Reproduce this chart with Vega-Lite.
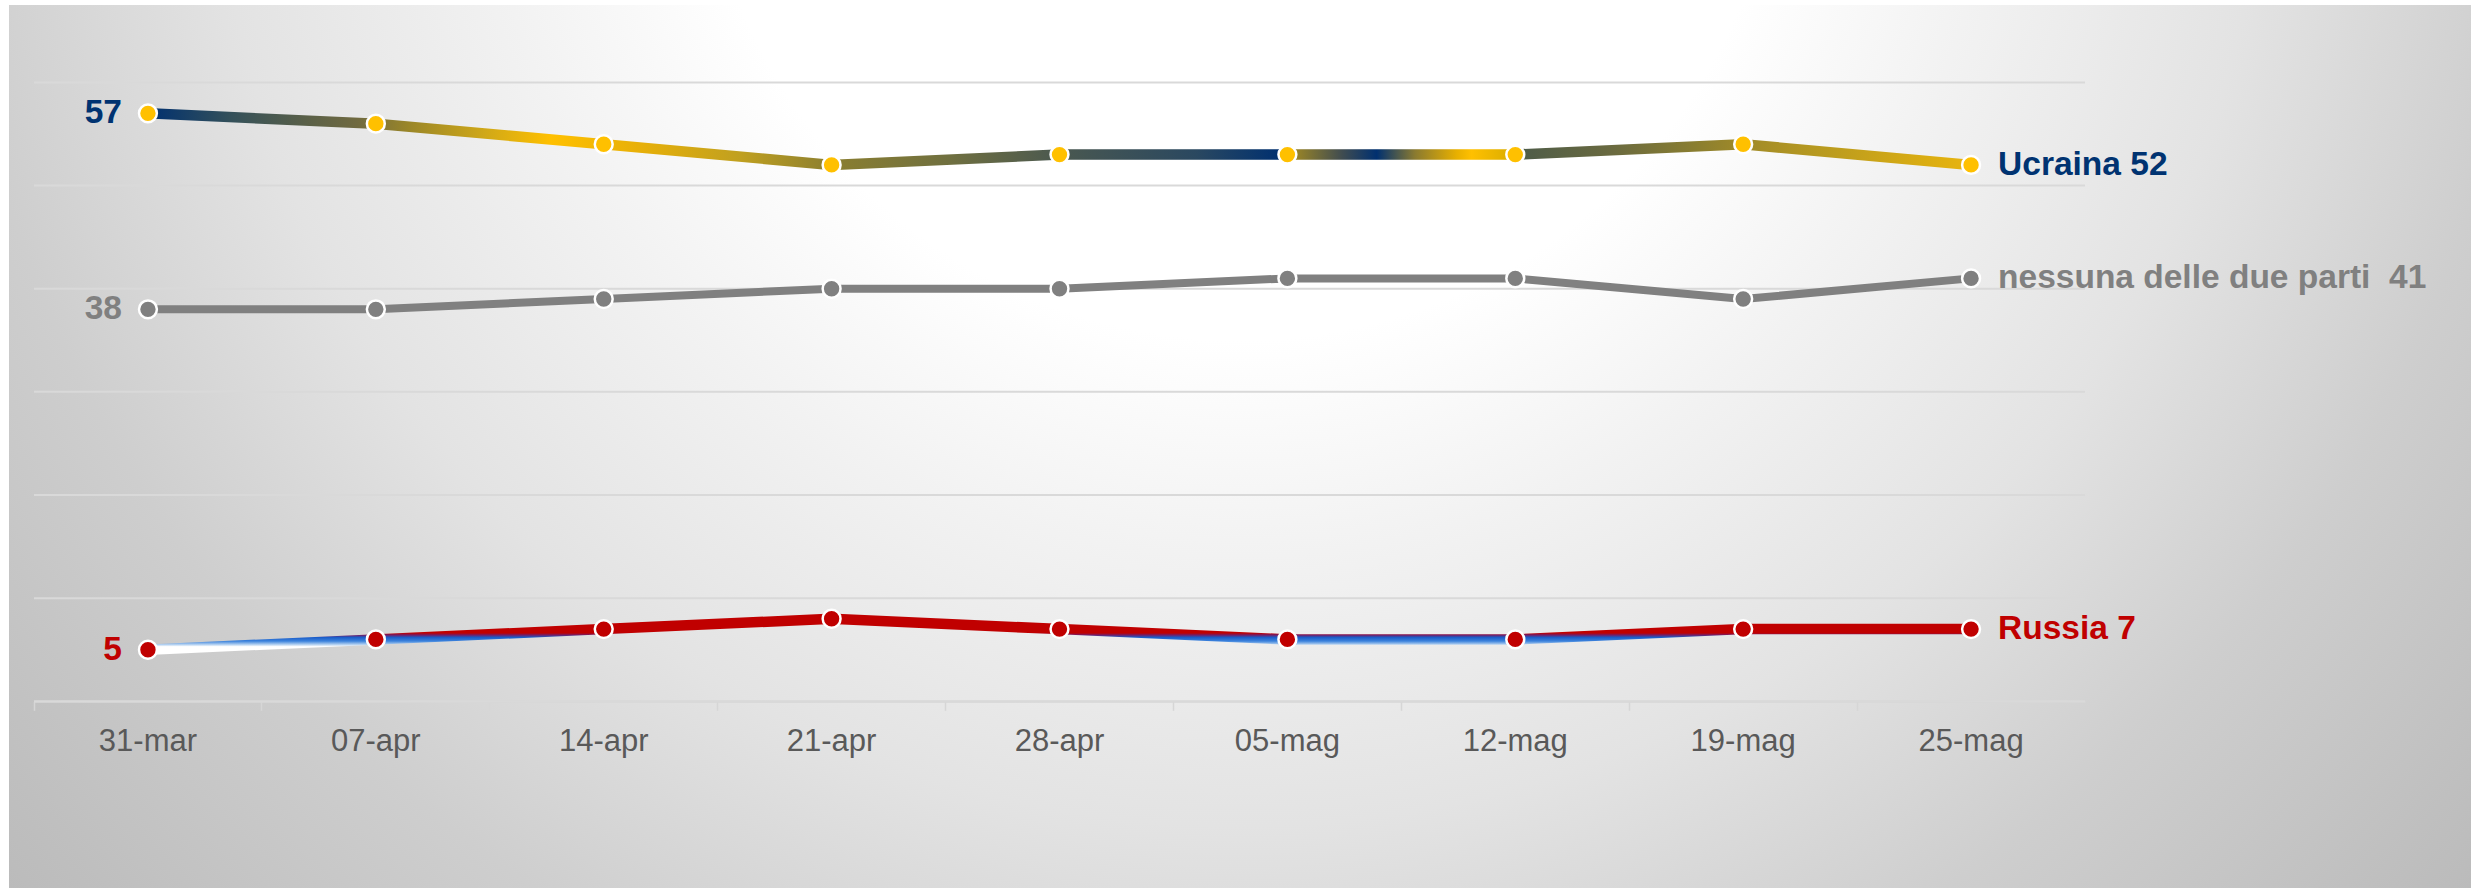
{
  "$schema": "https://vega.github.io/schema/vega-lite/v6.json",
  "width": 2462,
  "height": 883,
  "autosize": {"type": "none"},
  "padding": {"left": 9, "top": 5, "right": 0, "bottom": 0},
  "background": "#ffffff",
  "config": {
    "view": {
      "stroke": null,
      "fill": {
        "gradient": "radial",
        "x1": 0.5, "y1": 0.2374, "r1": 0,
        "x2": 0.5, "y2": 0.2374, "r2": 0.7311,
        "stops": [
          {"offset": 0, "color": "#ffffff"},
          {"offset": 0.3, "color": "#ffffff"},
          {"offset": 0.42, "color": "#f2f2f2"},
          {"offset": 0.57, "color": "#e3e3e3"},
          {"offset": 0.72, "color": "#cecece"},
          {"offset": 0.87, "color": "#bfbfbf"},
          {"offset": 1, "color": "#b3b3b3"}
        ]
      }
    },
    "axisX": {
      "offset": -186.7,
      "bandPosition": 0,
      "domainColor": "#d6d6d6",
      "domainWidth": 2,
      "tickColor": "#d6d6d6",
      "tickWidth": 1.5,
      "tickSize": 9,
      "labelFont": "Liberation Sans",
      "labelFontSize": 31,
      "labelColor": "#595959",
      "labelBaseline": "alphabetic",
      "labelPadding": 40,
      "labelAngle": 0,
      "grid": false
    },
    "axisY": {"disable": true},
    "text": {"font": "Liberation Sans", "fontWeight": "bold", "fontSize": 33.5}
  },
  "datasets": {
    "sondaggio": [
      {"data": "31-mar", "serie": "Ucraina", "pct": 57},
      {"data": "07-apr", "serie": "Ucraina", "pct": 56},
      {"data": "14-apr", "serie": "Ucraina", "pct": 54},
      {"data": "21-apr", "serie": "Ucraina", "pct": 52},
      {"data": "28-apr", "serie": "Ucraina", "pct": 53},
      {"data": "05-mag", "serie": "Ucraina", "pct": 53},
      {"data": "12-mag", "serie": "Ucraina", "pct": 53},
      {"data": "19-mag", "serie": "Ucraina", "pct": 54},
      {"data": "25-mag", "serie": "Ucraina", "pct": 52},
      {"data": "31-mar", "serie": "nessuna delle due parti", "pct": 38},
      {"data": "07-apr", "serie": "nessuna delle due parti", "pct": 38},
      {"data": "14-apr", "serie": "nessuna delle due parti", "pct": 39},
      {"data": "21-apr", "serie": "nessuna delle due parti", "pct": 40},
      {"data": "28-apr", "serie": "nessuna delle due parti", "pct": 40},
      {"data": "05-mag", "serie": "nessuna delle due parti", "pct": 41},
      {"data": "12-mag", "serie": "nessuna delle due parti", "pct": 41},
      {"data": "19-mag", "serie": "nessuna delle due parti", "pct": 39},
      {"data": "25-mag", "serie": "nessuna delle due parti", "pct": 41},
      {"data": "31-mar", "serie": "Russia", "pct": 5},
      {"data": "07-apr", "serie": "Russia", "pct": 6},
      {"data": "14-apr", "serie": "Russia", "pct": 7},
      {"data": "21-apr", "serie": "Russia", "pct": 8},
      {"data": "28-apr", "serie": "Russia", "pct": 7},
      {"data": "05-mag", "serie": "Russia", "pct": 6},
      {"data": "12-mag", "serie": "Russia", "pct": 6},
      {"data": "19-mag", "serie": "Russia", "pct": 7},
      {"data": "25-mag", "serie": "Russia", "pct": 7}
    ],
    "griglia": [
      {"v": 0}, {"v": 10}, {"v": 20}, {"v": 30}, {"v": 40}, {"v": 50}, {"v": 60}
    ]
  },
  "layer": [
    {
      "data": {"name": "griglia"},
      "mark": {"type": "rule", "color": "#d9d9d9", "strokeWidth": 2},
      "encoding": {
        "x": {"datum": "31-mar", "type": "ordinal", "bandPosition": 0, "title": null,
              "scale": {"type": "band", "domain": ["31-mar","07-apr","14-apr","21-apr","28-apr","05-mag","12-mag","19-mag","25-mag"], "range": [25, 2076], "paddingInner": 0, "paddingOuter": 0}},
        "x2": {"datum": "25-mag", "bandPosition": 1},
        "y": {"field": "v", "type": "quantitative", "axis": null,
              "scale": {"domain": [0, 60], "range": [696.3, 77.4], "zero": false, "nice": false}}
      }
    },
    {
      "data": {"name": "sondaggio"},
      "transform": [{"filter": "datum.serie === 'nessuna delle due parti'"}],
      "mark": {"type": "line", "stroke": "#808080", "strokeWidth": 8, "strokeJoin": "round"},
      "encoding": {
        "x": {"field": "data", "type": "ordinal", "title": null},
        "y": {"field": "pct", "type": "quantitative", "axis": null}
      }
    },
    {
      "data": {"name": "sondaggio"},
      "transform": [{"filter": "datum.serie === 'Russia'"}],
      "mark": {
        "type": "line", "strokeWidth": 10.5, "strokeJoin": "round",
        "stroke": {
          "gradient": "linear", "x1": 0, "y1": 0, "x2": 0, "y2": 1,
          "stops": [
            {"offset": 0, "color": "#c00000"},
            {"offset": 0.46, "color": "#c00000"},
            {"offset": 0.52, "color": "#7a1a60"},
            {"offset": 0.6, "color": "#1a5cc8"},
            {"offset": 0.72, "color": "#3b82dc"},
            {"offset": 0.83, "color": "#b0cff0"},
            {"offset": 0.9, "color": "#ffffff"},
            {"offset": 1, "color": "#ffffff"}
          ]
        }
      },
      "encoding": {
        "x": {"field": "data", "type": "ordinal", "title": null},
        "y": {"field": "pct", "type": "quantitative", "axis": null}
      }
    },
    {
      "data": {"name": "sondaggio"},
      "transform": [{"filter": "datum.serie === 'Ucraina'"}],
      "mark": {
        "type": "line", "strokeWidth": 10.5, "strokeJoin": "round",
        "stroke": {
          "gradient": "linear", "x1": 0, "y1": 0, "x2": 1, "y2": 0,
          "stops": [
            {"offset": 0, "color": "#003070"},
            {"offset": 0.045, "color": "#33505a"},
            {"offset": 0.087, "color": "#5a6048"},
            {"offset": 0.115, "color": "#706a40"},
            {"offset": 0.143, "color": "#9a8628"},
            {"offset": 0.185, "color": "#d0a818"},
            {"offset": 0.221, "color": "#ffc000"},
            {"offset": 0.269, "color": "#e8b008"},
            {"offset": 0.325, "color": "#c0a020"},
            {"offset": 0.376, "color": "#8a7e30"},
            {"offset": 0.439, "color": "#707040"},
            {"offset": 0.5, "color": "#4a5850"},
            {"offset": 0.575, "color": "#2a4860"},
            {"offset": 0.621, "color": "#003070"},
            {"offset": 0.625, "color": "#a88e20"},
            {"offset": 0.655, "color": "#404c50"},
            {"offset": 0.674, "color": "#003070"},
            {"offset": 0.695, "color": "#8a7a30"},
            {"offset": 0.718, "color": "#e8b000"},
            {"offset": 0.726, "color": "#ffc000"},
            {"offset": 0.745, "color": "#e0b000"},
            {"offset": 0.753, "color": "#4e5c48"},
            {"offset": 0.803, "color": "#6a6a40"},
            {"offset": 0.849, "color": "#8a7e30"},
            {"offset": 0.875, "color": "#a08a28"},
            {"offset": 0.917, "color": "#b89a20"},
            {"offset": 0.985, "color": "#e0b010"},
            {"offset": 1, "color": "#e8b410"}
          ]
        }
      },
      "encoding": {
        "x": {"field": "data", "type": "ordinal", "title": null},
        "y": {"field": "pct", "type": "quantitative", "axis": null}
      }
    },
    {
      "data": {"name": "sondaggio"},
      "mark": {"type": "point", "filled": true, "size": 320, "stroke": "#ffffff", "strokeWidth": 2.5, "opacity": 1},
      "encoding": {
        "x": {"field": "data", "type": "ordinal", "title": null},
        "y": {"field": "pct", "type": "quantitative", "axis": null},
        "fill": {"field": "serie", "type": "nominal", "legend": null,
                 "scale": {"domain": ["Ucraina", "nessuna delle due parti", "Russia"], "range": ["#ffc000", "#808080", "#c00000"]}}
      }
    },
    {
      "data": {"name": "sondaggio"},
      "transform": [{"filter": "datum.data === '31-mar'"}],
      "mark": {"type": "text", "align": "right", "baseline": "middle", "dx": -26},
      "encoding": {
        "x": {"field": "data", "type": "ordinal", "title": null},
        "y": {"field": "pct", "type": "quantitative", "axis": null},
        "text": {"field": "pct", "type": "quantitative"},
        "color": {"field": "serie", "type": "nominal", "legend": null,
                  "scale": {"domain": ["Ucraina", "nessuna delle due parti", "Russia"], "range": ["#003371", "#808080", "#c00000"]}}
      }
    },
    {
      "data": {"name": "sondaggio"},
      "transform": [
        {"filter": "datum.data === '25-mag'"},
        {"calculate": "datum.serie + (datum.serie === 'nessuna delle due parti' ? '\u00a0 ' : ' ') + datum.pct", "as": "etichetta"}
      ],
      "mark": {"type": "text", "align": "left", "baseline": "middle", "dx": 27},
      "encoding": {
        "x": {"field": "data", "type": "ordinal", "title": null},
        "y": {"field": "pct", "type": "quantitative", "axis": null},
        "text": {"field": "etichetta", "type": "nominal"},
        "color": {"field": "serie", "type": "nominal", "legend": null,
                  "scale": {"domain": ["Ucraina", "nessuna delle due parti", "Russia"], "range": ["#003371", "#808080", "#c00000"]}}
      }
    }
  ]
}
